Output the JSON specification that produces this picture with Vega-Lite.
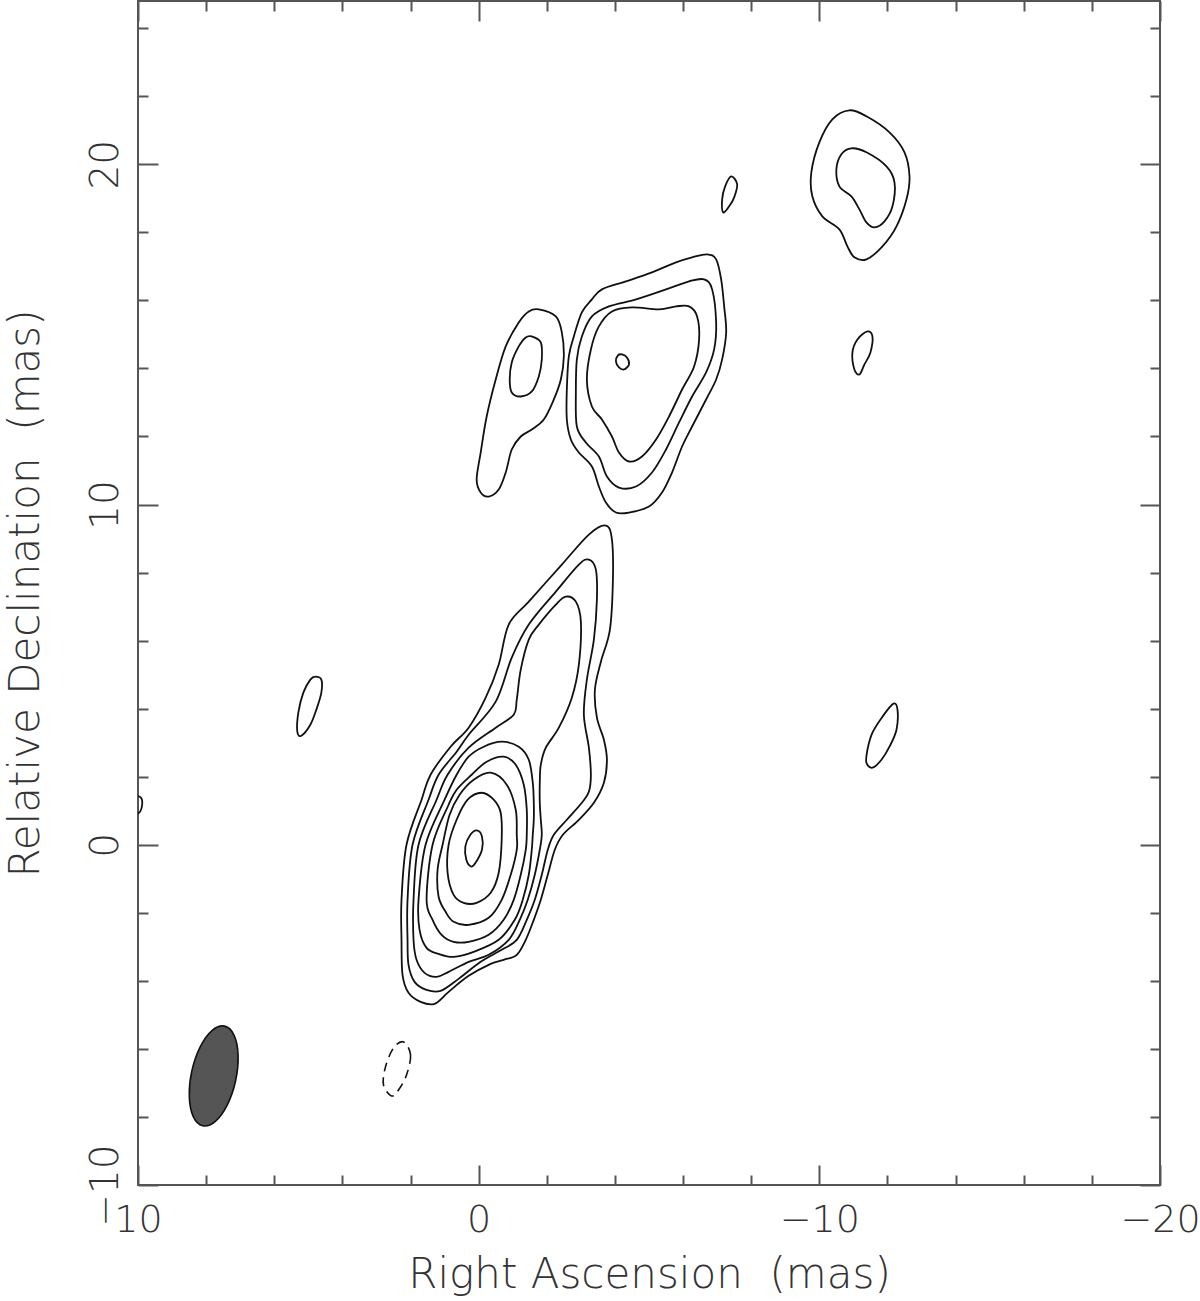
{
  "$schema": "https://vega.github.io/schema/vega-lite/v6.json",
  "width": 1022,
  "height": 1184,
  "autosize": {"type": "none"},
  "padding": {"left": 138, "top": 1, "right": 40, "bottom": 116},
  "background": "white",
  "config": {"view": {"stroke": "#555", "strokeWidth": 2}},
  "datasets": {
    "contours": [
      {"c":"L1","i":0,"x":-3.735,"y":9.382},{"c":"L1","i":1,"x":-3.912,"y":8.971},{"c":"L1","i":2,"x":-3.941,"y":7.794},{"c":"L1","i":3,"x":-3.853,"y":6.324},{"c":"L1","i":4,"x":-3.588,"y":5.382},{"c":"L1","i":5,"x":-3.412,"y":4.559},{"c":"L1","i":6,"x":-3.471,"y":3.735},{"c":"L1","i":7,"x":-3.676,"y":3.088},{"c":"L1","i":8,"x":-3.765,"y":2.5},{"c":"L1","i":9,"x":-3.676,"y":1.824},{"c":"L1","i":10,"x":-3.382,"y":1.235},{"c":"L1","i":11,"x":-2.941,"y":0.735},{"c":"L1","i":12,"x":-2.471,"y":0.294},{"c":"L1","i":13,"x":-2.235,"y":-0.147},{"c":"L1","i":14,"x":-2.029,"y":-0.882},{"c":"L1","i":15,"x":-1.824,"y":-1.618},{"c":"L1","i":16,"x":-1.618,"y":-2.206},{"c":"L1","i":17,"x":-1.382,"y":-2.794},{"c":"L1","i":18,"x":-1.118,"y":-3.235},{"c":"L1","i":19,"x":-0.735,"y":-3.382},{"c":"L1","i":20,"x":-0.353,"y":-3.5},{"c":"L1","i":21,"x":0.294,"y":-3.853},{"c":"L1","i":22,"x":0.882,"y":-4.324},{"c":"L1","i":23,"x":1.294,"y":-4.676},{"c":"L1","i":24,"x":1.706,"y":-4.618},{"c":"L1","i":25,"x":2.059,"y":-4.353},{"c":"L1","i":26,"x":2.235,"y":-3.824},{"c":"L1","i":27,"x":2.265,"y":-2.794},{"c":"L1","i":28,"x":2.265,"y":-1.618},{"c":"L1","i":29,"x":2.118,"y":0},{"c":"L1","i":30,"x":1.676,"y":1.324},{"c":"L1","i":31,"x":1.412,"y":2.059},{"c":"L1","i":32,"x":0.824,"y":2.882},{"c":"L1","i":33,"x":0.294,"y":3.441},{"c":"L1","i":34,"x":-0.206,"y":4.324},{"c":"L1","i":35,"x":-0.588,"y":5.294},{"c":"L1","i":36,"x":-0.882,"y":6.471},{"c":"L1","i":37,"x":-1.471,"y":7.147},{"c":"L1","i":38,"x":-2.441,"y":8.235},{"c":"L1","i":39,"x":-3.235,"y":9.118},
      {"c":"L2","i":0,"x":-3.235,"y":8.382},{"c":"L2","i":1,"x":-3.441,"y":8.088},{"c":"L2","i":2,"x":-3.471,"y":7.206},{"c":"L2","i":3,"x":-3.382,"y":6.029},{"c":"L2","i":4,"x":-3.176,"y":4.853},{"c":"L2","i":5,"x":-3.088,"y":3.824},{"c":"L2","i":6,"x":-3.235,"y":2.853},{"c":"L2","i":7,"x":-3.294,"y":2.059},{"c":"L2","i":8,"x":-3.235,"y":1.559},{"c":"L2","i":9,"x":-3.029,"y":1.235},{"c":"L2","i":10,"x":-2.588,"y":0.735},{"c":"L2","i":11,"x":-2.206,"y":0.294},{"c":"L2","i":12,"x":-2.029,"y":-0.147},{"c":"L2","i":13,"x":-1.853,"y":-0.882},{"c":"L2","i":14,"x":-1.647,"y":-1.618},{"c":"L2","i":15,"x":-1.412,"y":-2.206},{"c":"L2","i":16,"x":-1.118,"y":-2.794},{"c":"L2","i":17,"x":-0.676,"y":-3.088},{"c":"L2","i":18,"x":-0.059,"y":-3.441},{"c":"L2","i":19,"x":0.588,"y":-3.941},{"c":"L2","i":20,"x":1.118,"y":-4.294},{"c":"L2","i":21,"x":1.529,"y":-4.265},{"c":"L2","i":22,"x":1.882,"y":-4.029},{"c":"L2","i":23,"x":2.059,"y":-3.529},{"c":"L2","i":24,"x":2.088,"y":-2.794},{"c":"L2","i":25,"x":2.088,"y":-1.618},{"c":"L2","i":26,"x":1.941,"y":0},{"c":"L2","i":27,"x":1.471,"y":1.324},{"c":"L2","i":28,"x":1.176,"y":2.059},{"c":"L2","i":29,"x":0.647,"y":2.735},{"c":"L2","i":30,"x":0.294,"y":3.235},{"c":"L2","i":31,"x":-0.5,"y":4.206},{"c":"L2","i":32,"x":-0.971,"y":5.5},{"c":"L2","i":33,"x":-1.471,"y":6.471},{"c":"L2","i":34,"x":-2.265,"y":7.441},{"c":"L2","i":35,"x":-2.941,"y":8.235},
      {"c":"L3","i":0,"x":-2.559,"y":7.294},{"c":"L3","i":1,"x":-2.853,"y":7.147},{"c":"L3","i":2,"x":-3.0,"y":6.559},{"c":"L3","i":3,"x":-2.941,"y":5.294},{"c":"L3","i":4,"x":-2.735,"y":4.324},{"c":"L3","i":5,"x":-2.353,"y":3.441},{"c":"L3","i":6,"x":-1.971,"y":2.853},{"c":"L3","i":7,"x":-1.824,"y":2.353},{"c":"L3","i":8,"x":-1.794,"y":1.824},{"c":"L3","i":9,"x":-1.794,"y":1.235},{"c":"L3","i":10,"x":-1.824,"y":0.735},{"c":"L3","i":11,"x":-1.853,"y":0.294},{"c":"L3","i":12,"x":-1.794,"y":-0.147},{"c":"L3","i":13,"x":-1.647,"y":-0.882},{"c":"L3","i":14,"x":-1.441,"y":-1.618},{"c":"L3","i":15,"x":-1.206,"y":-2.206},{"c":"L3","i":16,"x":-0.882,"y":-2.794},{"c":"L3","i":17,"x":-0.294,"y":-3.235},{"c":"L3","i":18,"x":0.294,"y":-3.441},{"c":"L3","i":19,"x":0.882,"y":-3.735},{"c":"L3","i":20,"x":1.235,"y":-3.882},{"c":"L3","i":21,"x":1.588,"y":-3.765},{"c":"L3","i":22,"x":1.824,"y":-3.382},{"c":"L3","i":23,"x":1.912,"y":-2.794},{"c":"L3","i":24,"x":1.912,"y":-1.618},{"c":"L3","i":25,"x":1.765,"y":0},{"c":"L3","i":26,"x":1.235,"y":1.324},{"c":"L3","i":27,"x":0.912,"y":2.059},{"c":"L3","i":28,"x":0.294,"y":2.853},{"c":"L3","i":29,"x":-0.5,"y":3.441},{"c":"L3","i":30,"x":-1.029,"y":3.824},{"c":"L3","i":31,"x":-1.118,"y":4.265},{"c":"L3","i":32,"x":-1.235,"y":5.147},{"c":"L3","i":33,"x":-1.471,"y":6.029},{"c":"L3","i":34,"x":-1.765,"y":6.471},{"c":"L3","i":35,"x":-2.265,"y":7.059},
      {"c":"L4","i":0,"x":-0.676,"y":3.029},{"c":"L4","i":1,"x":-1.176,"y":2.882},{"c":"L4","i":2,"x":-1.471,"y":2.5},{"c":"L4","i":3,"x":-1.588,"y":1.824},{"c":"L4","i":4,"x":-1.618,"y":1.235},{"c":"L4","i":5,"x":-1.618,"y":0.735},{"c":"L4","i":6,"x":-1.588,"y":0.294},{"c":"L4","i":7,"x":-1.559,"y":-0.147},{"c":"L4","i":8,"x":-1.471,"y":-0.882},{"c":"L4","i":9,"x":-1.294,"y":-1.618},{"c":"L4","i":10,"x":-1.059,"y":-2.206},{"c":"L4","i":11,"x":-0.588,"y":-2.794},{"c":"L4","i":12,"x":0.147,"y":-3.147},{"c":"L4","i":13,"x":0.735,"y":-3.294},{"c":"L4","i":14,"x":1.176,"y":-3.206},{"c":"L4","i":15,"x":1.529,"y":-3.029},{"c":"L4","i":16,"x":1.735,"y":-2.5},{"c":"L4","i":17,"x":1.765,"y":-1.618},{"c":"L4","i":18,"x":1.559,"y":0},{"c":"L4","i":19,"x":1.0,"y":1.324},{"c":"L4","i":20,"x":0.647,"y":2.059},{"c":"L4","i":21,"x":0.294,"y":2.588},{"c":"L4","i":22,"x":-0.147,"y":2.882},
      {"c":"L5","i":0,"x":-0.735,"y":2.588},{"c":"L5","i":1,"x":-1.088,"y":2.353},{"c":"L5","i":2,"x":-1.324,"y":1.765},{"c":"L5","i":3,"x":-1.412,"y":1.029},{"c":"L5","i":4,"x":-1.412,"y":0.294},{"c":"L5","i":5,"x":-1.382,"y":-0.147},{"c":"L5","i":6,"x":-1.235,"y":-0.882},{"c":"L5","i":7,"x":-1.029,"y":-1.618},{"c":"L5","i":8,"x":-0.735,"y":-2.206},{"c":"L5","i":9,"x":-0.294,"y":-2.647},{"c":"L5","i":10,"x":0.294,"y":-2.853},{"c":"L5","i":11,"x":0.735,"y":-2.853},{"c":"L5","i":12,"x":1.088,"y":-2.647},{"c":"L5","i":13,"x":1.353,"y":-2.206},{"c":"L5","i":14,"x":1.529,"y":-1.618},{"c":"L5","i":15,"x":1.353,"y":0},{"c":"L5","i":16,"x":0.882,"y":1.176},{"c":"L5","i":17,"x":0.647,"y":1.618},{"c":"L5","i":18,"x":0.206,"y":2.059},{"c":"L5","i":19,"x":-0.235,"y":2.441},
      {"c":"L6","i":0,"x":-0.353,"y":2.118},{"c":"L6","i":1,"x":-0.824,"y":1.765},{"c":"L6","i":2,"x":-1.088,"y":1.029},{"c":"L6","i":3,"x":-1.118,"y":0.294},{"c":"L6","i":4,"x":-1.118,"y":-0.147},{"c":"L6","i":5,"x":-0.941,"y":-0.882},{"c":"L6","i":6,"x":-0.676,"y":-1.618},{"c":"L6","i":7,"x":-0.294,"y":-2.147},{"c":"L6","i":8,"x":0.294,"y":-2.353},{"c":"L6","i":9,"x":0.735,"y":-2.265},{"c":"L6","i":10,"x":0.971,"y":-1.971},{"c":"L6","i":11,"x":1.176,"y":-1.529},{"c":"L6","i":12,"x":1.206,"y":-0.735},{"c":"L6","i":13,"x":1.059,"y":0},{"c":"L6","i":14,"x":0.853,"y":0.882},{"c":"L6","i":15,"x":0.559,"y":1.471},{"c":"L6","i":16,"x":0.147,"y":1.912},
      {"c":"L7","i":0,"x":-0.088,"y":1.529},{"c":"L7","i":1,"x":-0.441,"y":1.324},{"c":"L7","i":2,"x":-0.647,"y":0.941},{"c":"L7","i":3,"x":-0.676,"y":0.147},{"c":"L7","i":4,"x":-0.588,"y":-0.824},{"c":"L7","i":5,"x":-0.353,"y":-1.412},{"c":"L7","i":6,"x":0.059,"y":-1.706},{"c":"L7","i":7,"x":0.441,"y":-1.706},{"c":"L7","i":8,"x":0.735,"y":-1.471},{"c":"L7","i":9,"x":0.912,"y":-0.824},{"c":"L7","i":10,"x":0.882,"y":0},{"c":"L7","i":11,"x":0.647,"y":0.735},{"c":"L7","i":12,"x":0.324,"y":1.324},
      {"c":"L8","i":0,"x":0.05,"y":0.421},{"c":"L8","i":1,"x":-0.097,"y":0.244},{"c":"L8","i":2,"x":-0.097,"y":-0.147},{"c":"L8","i":3,"x":0.097,"y":-0.538},{"c":"L8","i":4,"x":0.226,"y":-0.638},{"c":"L8","i":5,"x":0.362,"y":-0.441},{"c":"L8","i":6,"x":0.391,"y":-0.05},{"c":"L8","i":7,"x":0.244,"y":0.294},
      {"c":"A1","i":0,"x":-1.765,"y":15.735},{"c":"A1","i":1,"x":-2.265,"y":15.529},{"c":"A1","i":2,"x":-2.441,"y":15.059},{"c":"A1","i":3,"x":-2.5,"y":14.353},{"c":"A1","i":4,"x":-2.412,"y":13.676},{"c":"A1","i":5,"x":-2.206,"y":13.088},{"c":"A1","i":6,"x":-1.912,"y":12.5},{"c":"A1","i":7,"x":-1.559,"y":12.206},{"c":"A1","i":8,"x":-1.235,"y":12.0},{"c":"A1","i":9,"x":-0.971,"y":11.618},{"c":"A1","i":10,"x":-0.794,"y":10.941},{"c":"A1","i":11,"x":-0.588,"y":10.441},{"c":"A1","i":12,"x":-0.294,"y":10.235},{"c":"A1","i":13,"x":-0.059,"y":10.353},{"c":"A1","i":14,"x":0.059,"y":10.735},{"c":"A1","i":15,"x":-0.059,"y":11.529},{"c":"A1","i":16,"x":-0.235,"y":12.588},{"c":"A1","i":17,"x":-0.5,"y":13.676},{"c":"A1","i":18,"x":-0.794,"y":14.647},{"c":"A1","i":19,"x":-1.176,"y":15.353},{"c":"A1","i":20,"x":-1.471,"y":15.676},
      {"c":"A2","i":0,"x":-1.559,"y":14.941},{"c":"A2","i":1,"x":-1.824,"y":14.765},{"c":"A2","i":2,"x":-1.853,"y":14.265},{"c":"A2","i":3,"x":-1.765,"y":13.765},{"c":"A2","i":4,"x":-1.559,"y":13.324},{"c":"A2","i":5,"x":-1.235,"y":13.176},{"c":"A2","i":6,"x":-0.971,"y":13.294},{"c":"A2","i":7,"x":-0.912,"y":13.676},{"c":"A2","i":8,"x":-0.971,"y":14.176},{"c":"A2","i":9,"x":-1.176,"y":14.647},{"c":"A2","i":10,"x":-1.382,"y":14.912},
      {"c":"B1","i":0,"x":-6.706,"y":17.353},{"c":"B1","i":1,"x":-6.971,"y":17.206},{"c":"B1","i":2,"x":-7.118,"y":16.618},{"c":"B1","i":3,"x":-7.206,"y":15.824},{"c":"B1","i":4,"x":-7.265,"y":15.059},{"c":"B1","i":5,"x":-7.147,"y":14.265},{"c":"B1","i":6,"x":-6.971,"y":13.676},{"c":"B1","i":7,"x":-6.676,"y":13.088},{"c":"B1","i":8,"x":-6.265,"y":12.294},{"c":"B1","i":9,"x":-5.971,"y":11.706},{"c":"B1","i":10,"x":-5.676,"y":10.941},{"c":"B1","i":11,"x":-5.382,"y":10.353},{"c":"B1","i":12,"x":-5.0,"y":9.941},{"c":"B1","i":13,"x":-4.412,"y":9.765},{"c":"B1","i":14,"x":-4.029,"y":9.765},{"c":"B1","i":15,"x":-3.735,"y":10.059},{"c":"B1","i":16,"x":-3.529,"y":10.529},{"c":"B1","i":17,"x":-3.324,"y":11.118},{"c":"B1","i":18,"x":-2.941,"y":11.529},{"c":"B1","i":19,"x":-2.706,"y":11.912},{"c":"B1","i":20,"x":-2.588,"y":12.5},{"c":"B1","i":21,"x":-2.588,"y":13.382},{"c":"B1","i":22,"x":-2.647,"y":14.353},{"c":"B1","i":23,"x":-2.794,"y":14.941},{"c":"B1","i":24,"x":-3.029,"y":15.647},{"c":"B1","i":25,"x":-3.324,"y":16.029},{"c":"B1","i":26,"x":-3.618,"y":16.324},{"c":"B1","i":27,"x":-4.324,"y":16.559},{"c":"B1","i":28,"x":-5.088,"y":16.824},{"c":"B1","i":29,"x":-5.794,"y":17.118},{"c":"B1","i":30,"x":-6.265,"y":17.265},
      {"c":"B2","i":0,"x":-6.618,"y":16.618},{"c":"B2","i":1,"x":-6.853,"y":16.324},{"c":"B2","i":2,"x":-6.971,"y":15.353},{"c":"B2","i":3,"x":-6.912,"y":14.559},{"c":"B2","i":4,"x":-6.676,"y":13.882},{"c":"B2","i":5,"x":-6.265,"y":13.176},{"c":"B2","i":6,"x":-5.882,"y":12.412},{"c":"B2","i":7,"x":-5.5,"y":11.618},{"c":"B2","i":8,"x":-5.088,"y":10.941},{"c":"B2","i":9,"x":-4.618,"y":10.529},{"c":"B2","i":10,"x":-4.118,"y":10.5},{"c":"B2","i":11,"x":-3.765,"y":10.824},{"c":"B2","i":12,"x":-3.529,"y":11.412},{"c":"B2","i":13,"x":-3.147,"y":11.824},{"c":"B2","i":14,"x":-2.882,"y":12.294},{"c":"B2","i":15,"x":-2.853,"y":13.294},{"c":"B2","i":16,"x":-2.882,"y":14.265},{"c":"B2","i":17,"x":-3.029,"y":14.941},{"c":"B2","i":18,"x":-3.324,"y":15.529},{"c":"B2","i":19,"x":-3.824,"y":15.824},{"c":"B2","i":20,"x":-4.618,"y":16.029},{"c":"B2","i":21,"x":-5.5,"y":16.324},{"c":"B2","i":22,"x":-6.176,"y":16.559},
      {"c":"B3","i":0,"x":-6.176,"y":15.824},{"c":"B3","i":1,"x":-6.412,"y":15.529},{"c":"B3","i":2,"x":-6.471,"y":14.853},{"c":"B3","i":3,"x":-6.324,"y":14.059},{"c":"B3","i":4,"x":-5.971,"y":13.382},{"c":"B3","i":5,"x":-5.588,"y":12.588},{"c":"B3","i":6,"x":-5.206,"y":11.912},{"c":"B3","i":7,"x":-4.794,"y":11.412},{"c":"B3","i":8,"x":-4.412,"y":11.265},{"c":"B3","i":9,"x":-4.118,"y":11.529},{"c":"B3","i":10,"x":-3.912,"y":12.0},{"c":"B3","i":11,"x":-3.618,"y":12.5},{"c":"B3","i":12,"x":-3.324,"y":12.882},{"c":"B3","i":13,"x":-3.176,"y":13.676},{"c":"B3","i":14,"x":-3.294,"y":14.559},{"c":"B3","i":15,"x":-3.529,"y":15.235},{"c":"B3","i":16,"x":-3.912,"y":15.676},{"c":"B3","i":17,"x":-4.5,"y":15.794},{"c":"B3","i":18,"x":-5.294,"y":15.735},{"c":"B3","i":19,"x":-5.794,"y":15.824},
      {"c":"B4","i":0,"x":-4.206,"y":14.412},{"c":"B4","i":1,"x":-4.353,"y":14.324},{"c":"B4","i":2,"x":-4.412,"y":14.118},{"c":"B4","i":3,"x":-4.265,"y":13.971},{"c":"B4","i":4,"x":-4.118,"y":14.029},{"c":"B4","i":5,"x":-4.029,"y":14.206},{"c":"B4","i":6,"x":-4.088,"y":14.382},
      {"c":"C1","i":0,"x":-10.882,"y":21.588},{"c":"C1","i":1,"x":-11.382,"y":21.412},{"c":"C1","i":2,"x":-12.059,"y":20.941},{"c":"C1","i":3,"x":-12.5,"y":20.353},{"c":"C1","i":4,"x":-12.647,"y":19.647},{"c":"C1","i":5,"x":-12.559,"y":18.971},{"c":"C1","i":6,"x":-12.265,"y":18.176},{"c":"C1","i":7,"x":-11.853,"y":17.588},{"c":"C1","i":8,"x":-11.382,"y":17.206},{"c":"C1","i":9,"x":-11.029,"y":17.265},{"c":"C1","i":10,"x":-10.824,"y":17.588},{"c":"C1","i":11,"x":-10.588,"y":18.088},{"c":"C1","i":12,"x":-10.088,"y":18.471},{"c":"C1","i":13,"x":-9.794,"y":19.059},{"c":"C1","i":14,"x":-9.765,"y":19.765},{"c":"C1","i":15,"x":-10.0,"y":20.647},{"c":"C1","i":16,"x":-10.382,"y":21.324},
      {"c":"C2","i":0,"x":-10.941,"y":20.471},{"c":"C2","i":1,"x":-11.382,"y":20.353},{"c":"C2","i":2,"x":-11.971,"y":19.941},{"c":"C2","i":3,"x":-12.206,"y":19.471},{"c":"C2","i":4,"x":-12.147,"y":18.765},{"c":"C2","i":5,"x":-11.912,"y":18.324},{"c":"C2","i":6,"x":-11.618,"y":18.147},{"c":"C2","i":7,"x":-11.382,"y":18.294},{"c":"C2","i":8,"x":-11.176,"y":18.676},{"c":"C2","i":9,"x":-10.941,"y":19.059},{"c":"C2","i":10,"x":-10.588,"y":19.353},{"c":"C2","i":11,"x":-10.5,"y":19.853},{"c":"C2","i":12,"x":-10.647,"y":20.294},
      {"c":"D","i":0,"x":-7.412,"y":19.647},{"c":"D","i":1,"x":-7.588,"y":19.412},{"c":"D","i":2,"x":-7.5,"y":19.029},{"c":"D","i":3,"x":-7.353,"y":18.765},{"c":"D","i":4,"x":-7.176,"y":18.588},{"c":"D","i":5,"x":-7.147,"y":18.971},{"c":"D","i":6,"x":-7.235,"y":19.353},
      {"c":"E","i":0,"x":-11.412,"y":15.088},{"c":"E","i":1,"x":-11.559,"y":14.941},{"c":"E","i":2,"x":-11.5,"y":14.471},{"c":"E","i":3,"x":-11.324,"y":14.118},{"c":"E","i":4,"x":-11.176,"y":13.824},{"c":"E","i":5,"x":-11.029,"y":13.971},{"c":"E","i":6,"x":-10.971,"y":14.471},{"c":"E","i":7,"x":-11.118,"y":14.853},
      {"c":"F","i":0,"x":-12.176,"y":4.147},{"c":"F","i":1,"x":-12.294,"y":3.971},{"c":"F","i":2,"x":-12.265,"y":3.382},{"c":"F","i":3,"x":-12.059,"y":2.882},{"c":"F","i":4,"x":-11.824,"y":2.5},{"c":"F","i":5,"x":-11.559,"y":2.265},{"c":"F","i":6,"x":-11.382,"y":2.412},{"c":"F","i":7,"x":-11.412,"y":2.794},{"c":"F","i":8,"x":-11.559,"y":3.294},{"c":"F","i":9,"x":-11.853,"y":3.765},
      {"c":"G","i":0,"x":4.794,"y":4.941},{"c":"G","i":1,"x":4.618,"y":4.853},{"c":"G","i":2,"x":4.618,"y":4.471},{"c":"G","i":3,"x":4.765,"y":3.971},{"c":"G","i":4,"x":4.941,"y":3.529},{"c":"G","i":5,"x":5.206,"y":3.206},{"c":"G","i":6,"x":5.324,"y":3.324},{"c":"G","i":7,"x":5.294,"y":3.882},{"c":"G","i":8,"x":5.147,"y":4.471},{"c":"G","i":9,"x":4.941,"y":4.853},
      {"c":"I","i":0,"x":9.912,"y":1.382},{"c":"I","i":1,"x":9.882,"y":1.147},{"c":"I","i":2,"x":9.971,"y":0.941},{"c":"I","i":3,"x":10.235,"y":0.882},{"c":"I","i":4,"x":10.353,"y":1.176},{"c":"I","i":5,"x":10.206,"y":1.441}
    ],
    "dashed": [
      {"c":"H","i":0,"x":2.206,"y":-5.794},{"c":"H","i":1,"x":2.0,"y":-6.176},{"c":"H","i":2,"x":2.118,"y":-6.765},{"c":"H","i":3,"x":2.353,"y":-7.206},{"c":"H","i":4,"x":2.559,"y":-7.382},{"c":"H","i":5,"x":2.794,"y":-7.059},{"c":"H","i":6,"x":2.735,"y":-6.529},{"c":"H","i":7,"x":2.5,"y":-5.971}
    ],
    "beam": [
      {"i":0,"x":7.456,"y":-5.33},{"i":1,"x":7.179,"y":-5.6},{"i":2,"x":7.062,"y":-6.185},{"i":3,"x":7.135,"y":-6.935},{"i":4,"x":7.382,"y":-7.65},{"i":5,"x":7.737,"y":-8.135},{"i":6,"x":8.101,"y":-8.259},{"i":7,"x":8.377,"y":-7.991},{"i":8,"x":8.494,"y":-7.403},{"i":9,"x":8.421,"y":-6.653},{"i":10,"x":8.174,"y":-5.938},{"i":11,"x":7.819,"y":-5.453}
    ]
  },
  "resolve": {"axis": {"x": "independent", "y": "independent"}},
  "layer": [
    {
      "data": {"name": "contours"},
      "mark": {"type": "line", "interpolate": "cardinal-closed", "stroke": "#111", "strokeWidth": 1.8, "clip": true},
      "encoding": {
        "x": {"field": "x", "type": "quantitative",
          "scale": {"domain": [-20, 10], "reverse": true, "nice": false, "zero": false},
          "axis": {"orient": "bottom", "values": [10, 0, -10, -20], "ticks": false, "domain": false, "grid": false,
            "labelFont": "DejaVu Sans", "labelFontWeight": 200, "labelFontSize": 38, "labelColor": "#333", "labelPadding": 16,
            "labelFlush": false, "labelOverlap": false, "labelBound": false,
            "title": "Right Ascension\u00a0 (mas)", "titleFont": "DejaVu Sans", "titleFontWeight": 200, "titleFontSize": 42, "titleColor": "#333", "titlePadding": 15}},
        "y": {"field": "y", "type": "quantitative",
          "scale": {"domain": [-10, 24.8], "nice": false, "zero": false},
          "axis": {"orient": "left", "values": [-10, 0, 10, 20], "ticks": false, "domain": false, "grid": false,
            "labelFont": "DejaVu Sans", "labelFontWeight": 200, "labelFontSize": 39, "labelColor": "#333", "labelPadding": 21,
            "labelAngle": 270, "labelAlign": "center", "labelBaseline": "alphabetic",
            "labelFlush": false, "labelOverlap": false, "labelBound": false,
            "title": "Relative Declination\u00a0 (mas)", "titleFont": "DejaVu Sans", "titleFontWeight": 200, "titleFontSize": 42, "titleColor": "#333", "titlePadding": 39}},
        "detail": {"field": "c", "type": "nominal"},
        "order": {"field": "i", "type": "quantitative"}
      }
    },
    {
      "data": {"name": "dashed"},
      "mark": {"type": "line", "interpolate": "cardinal-closed", "stroke": "#111", "strokeWidth": 1.6, "strokeDash": [9, 6]},
      "encoding": {
        "x": {"field": "x", "type": "quantitative",
          "scale": {"domain": [-20, 10], "reverse": true, "nice": false, "zero": false},
          "axis": {"orient": "bottom", "values": [10, 0, -10, -20], "tickSize": -20, "tickWidth": 2, "tickColor": "#555", "labels": false, "domain": false, "grid": false, "title": null}},
        "y": {"field": "y", "type": "quantitative",
          "scale": {"domain": [-10, 24.8], "nice": false, "zero": false},
          "axis": {"orient": "left", "values": [-10, 0, 10, 20], "tickSize": -20, "tickWidth": 2, "tickColor": "#555", "labels": false, "domain": false, "grid": false, "title": null}},
        "order": {"field": "i", "type": "quantitative"}
      }
    },
    {
      "data": {"name": "beam"},
      "mark": {"type": "line", "interpolate": "cardinal-closed", "fill": "#555", "stroke": "#111", "strokeWidth": 1.6},
      "encoding": {
        "x": {"field": "x", "type": "quantitative",
          "scale": {"domain": [-20, 10], "reverse": true, "nice": false, "zero": false},
          "axis": {"orient": "bottom", "values": [-18, -16, -14, -12, -8, -6, -4, -2, 2, 4, 6, 8], "tickSize": -10, "tickWidth": 2, "tickColor": "#555", "labels": false, "domain": false, "grid": false, "title": null}},
        "y": {"field": "y", "type": "quantitative",
          "scale": {"domain": [-10, 24.8], "nice": false, "zero": false},
          "axis": {"orient": "left", "values": [-8, -6, -4, -2, 2, 4, 6, 8, 12, 14, 16, 18, 22, 24], "tickSize": -10, "tickWidth": 2, "tickColor": "#555", "labels": false, "domain": false, "grid": false, "title": null}},
        "order": {"field": "i", "type": "quantitative"}
      }
    },
    {
      "data": {"name": "beam"},
      "mark": {"type": "point", "opacity": 0},
      "encoding": {
        "x": {"field": "x", "type": "quantitative",
          "scale": {"domain": [-20, 10], "reverse": true, "nice": false, "zero": false},
          "axis": {"orient": "top", "values": [10, 0, -10, -20], "tickSize": -20, "tickWidth": 2, "tickColor": "#555", "labels": false, "domain": false, "grid": false, "title": null}},
        "y": {"field": "y", "type": "quantitative",
          "scale": {"domain": [-10, 24.8], "nice": false, "zero": false},
          "axis": {"orient": "right", "values": [-10, 0, 10, 20], "tickSize": -20, "tickWidth": 2, "tickColor": "#555", "labels": false, "domain": false, "grid": false, "title": null}}
      }
    },
    {
      "data": {"name": "beam"},
      "mark": {"type": "point", "opacity": 0},
      "encoding": {
        "x": {"field": "x", "type": "quantitative",
          "scale": {"domain": [-20, 10], "reverse": true, "nice": false, "zero": false},
          "axis": {"orient": "top", "values": [-18, -16, -14, -12, -8, -6, -4, -2, 2, 4, 6, 8], "tickSize": -10, "tickWidth": 2, "tickColor": "#555", "labels": false, "domain": false, "grid": false, "title": null}},
        "y": {"field": "y", "type": "quantitative",
          "scale": {"domain": [-10, 24.8], "nice": false, "zero": false},
          "axis": {"orient": "right", "values": [-8, -6, -4, -2, 2, 4, 6, 8, 12, 14, 16, 18, 22, 24], "tickSize": -10, "tickWidth": 2, "tickColor": "#555", "labels": false, "domain": false, "grid": false, "title": null}}
      }
    }
  ]
}
